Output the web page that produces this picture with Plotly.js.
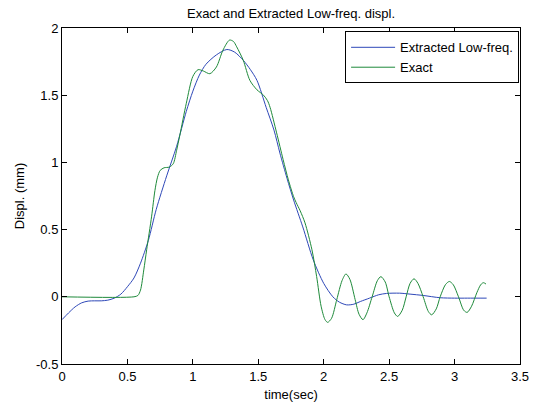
<!DOCTYPE html>
<html>
<head>
<meta charset="utf-8">
<script src="https://cdn.plot.ly/plotly-3.0.1.min.js"></script>
<style>html,body{margin:0;padding:0;background:#fff;}#chart{width:534px;height:403px;}</style>
</head>
<body>
<div id="chart"></div>
<script>
// Extracted low-frequency displacement (blue)
const tExtracted = [0,0.05,0.1,0.15,0.2,0.25,0.3,0.35,0.4,0.45,0.5,0.55,0.6,0.66,0.72,0.8,0.876,0.95,1.0,1.05,1.1,1.18,1.26,1.32,1.385,1.44,1.49,1.56,1.62,1.665,1.72,1.77,1.84,1.92,2.0,2.07,2.12,2.175,2.23,2.28,2.35,2.42,2.48,2.58,2.66,2.76,2.89,3.0,3.1,3.245];
const dExtracted = [-0.17,-0.12,-0.075,-0.045,-0.032,-0.03,-0.03,-0.025,-0.01,0.02,0.075,0.14,0.25,0.42,0.65,0.9,1.12,1.38,1.53,1.65,1.73,1.80,1.84,1.82,1.76,1.69,1.61,1.41,1.24,1.07,0.88,0.72,0.52,0.275,0.10,0.0,-0.04,-0.06,-0.055,-0.035,-0.01,0.015,0.025,0.027,0.02,0.01,-0.007,-0.01,-0.01,-0.01];
// Exact displacement (green)
const tExact = [0,0.55,0.58,0.60,0.625,0.647,0.685,0.71,0.73,0.75,0.78,0.82,0.85,0.876,0.9,0.95,1.0,1.04,1.08,1.13,1.18,1.23,1.28,1.31,1.335,1.385,1.436,1.49,1.54,1.57,1.59,1.64,1.69,1.73,1.77,1.79,1.82,1.857,1.91,1.946,1.98,2.01,2.03,2.06,2.1,2.14,2.17,2.2,2.24,2.27,2.30,2.33,2.37,2.41,2.437,2.47,2.5,2.54,2.565,2.6,2.63,2.66,2.69,2.72,2.76,2.8,2.825,2.86,2.89,2.93,2.96,2.99,3.03,3.07,3.096,3.13,3.17,3.2,3.22,3.24];
const dExact = [0,0,0.01,0.05,0.2,0.35,0.6,0.79,0.89,0.94,0.96,0.965,0.99,1.09,1.2,1.44,1.64,1.69,1.68,1.66,1.71,1.835,1.91,1.90,1.86,1.76,1.61,1.54,1.50,1.46,1.41,1.22,1.02,0.87,0.745,0.70,0.64,0.55,0.35,0.15,-0.07,-0.17,-0.19,-0.16,-0.02,0.12,0.17,0.13,-0.02,-0.13,-0.17,-0.12,0.0,0.12,0.15,0.11,0.0,-0.12,-0.146,-0.1,0.0,0.1,0.134,0.1,0.0,-0.11,-0.134,-0.09,0.0,0.09,0.114,0.09,0.0,-0.1,-0.116,-0.07,0.03,0.09,0.105,0.095];

const xTickVals = [0,0.5,1,1.5,2,2.5,3,3.5];
const xTickText = ['0','0.5','1','1.5','2','2.5','3','3.5'];
const yTickVals = [-0.5,0,0.5,1,1.5,2];
const yTickText = ['-0.5','0','0.5','1','1.5','2'];

const font = {family: 'Liberation Sans, Arial, Helvetica, sans-serif', size: 13, color: '#000'};

const traces = [
  {x: tExtracted, y: dExtracted, type: 'scatter', mode: 'lines', name: 'Extracted Low-freq.',
   line: {color: '#2e48b8', width: 1, shape: 'spline', smoothing: 0.8}},
  {x: tExact, y: dExact, type: 'scatter', mode: 'lines', name: 'Exact',
   line: {color: '#1e8a3a', width: 1, shape: 'spline', smoothing: 0.8}}
];

const axisCommon = {showgrid: false, zeroline: false, showline: true, linecolor: '#000', linewidth: 1,
  mirror: 'ticks', ticks: 'inside', ticklen: 5, tickcolor: '#000', tickwidth: 1, tickfont: font};

const layout = {
  width: 534, height: 403,
  margin: {l: 62, r: 14, t: 28, b: 39, pad: 0},
  paper_bgcolor: '#fff', plot_bgcolor: '#fff',
  font: font,
  title: {text: 'Exact and Extracted Low-freq. displ.', font: font, x: 0.545, xanchor: 'center', y: 1 - 13.5/403, yanchor: 'middle'},
  xaxis: Object.assign({}, axisCommon, {range: [0, 3.5], tickmode: 'array', tickvals: xTickVals, ticktext: xTickText,
    title: {text: 'time(sec)', font: font, standoff: 7}}),
  yaxis: Object.assign({}, axisCommon, {range: [-0.5, 2], tickmode: 'array', tickvals: yTickVals, ticktext: yTickText,
    title: {text: 'Displ. (mm)', font: font, standoff: 8}}),
  showlegend: true,
  legend: {x: 0.998, xanchor: 'right', y: 0.99, yanchor: 'top', bgcolor: '#fff', bordercolor: '#000', borderwidth: 1,
    font: font, tracegroupgap: 0, itemwidth: 44}
};

Plotly.newPlot('chart', traces, layout, {displayModeBar: false, staticPlot: true});
</script>
</body>
</html>
